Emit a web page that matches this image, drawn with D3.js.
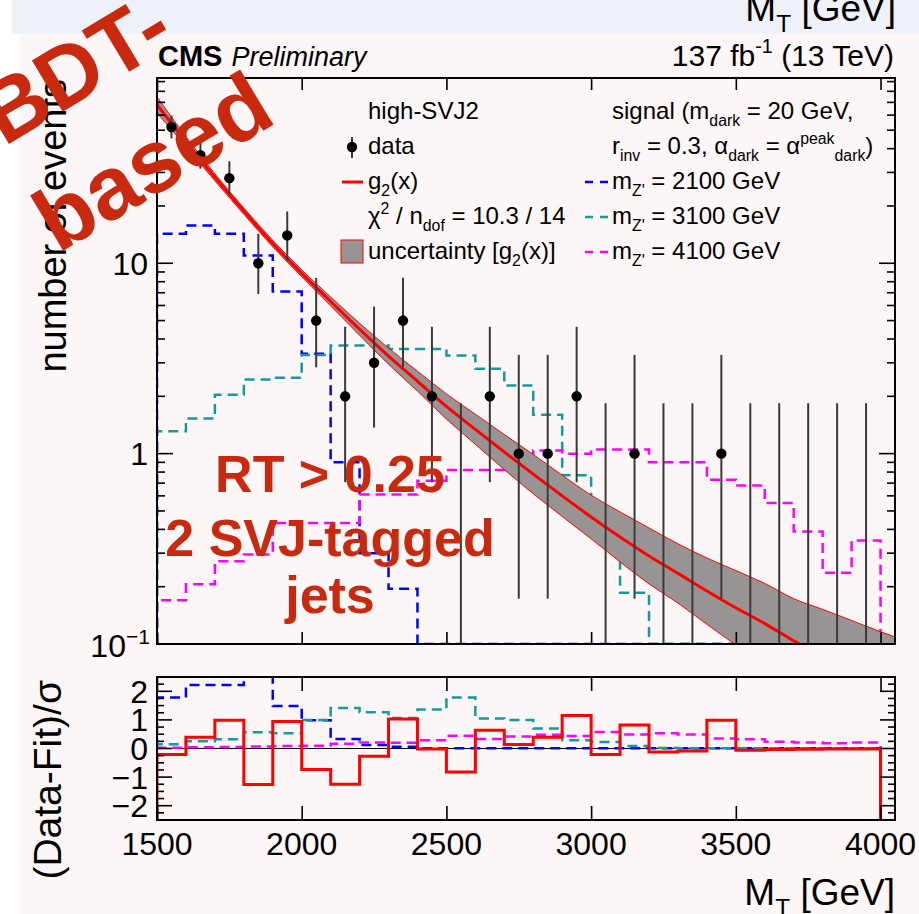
<!DOCTYPE html>
<html>
<head>
<meta charset="utf-8">
<script src="https://cdn.jsdelivr.net/npm/d3@7"></script>
<style>
  body { margin: 0; background: #fff; }
  svg { display: block; font-family: "Liberation Sans", Arial, Helvetica, sans-serif; }
</style>
</head>
<body>
<div id="chart"></div>
<script>
// Bin edges (GeV)
const binEdges = [1500, 1600, 1700, 1800, 1900, 2000, 2100, 2200, 2300, 2400, 2500, 2600, 2700,
  2800, 2900, 3000, 3100, 3200, 3300, 3400, 3500, 3600, 3700, 3800, 3900, 4000];

// Observed data and Poisson intervals
const dataCounts = [52, 37, 28, 10, 14, 5, 2, 3, 5, 2, 0, 2, 1, 1, 2, 0, 1, 0, 0, 1, 0, 0, 0, 0, 0];
const dataLow = [45.3, 31.4, 22.9, 6.89, 10.3, 2.84, 0.708, 1.37, 2.84, 0.708, 0, 0.708, 0.173,
  0.173, 0.708, 0, 0.173, 0, 0, 0.173, 0, 0, 0, 0, 0];
const dataHigh = [59.7, 43.6, 34.3, 14.27, 18.7, 8.38, 4.64, 5.92, 8.38, 4.64, 1.84, 4.64, 3.3,
  3.3, 4.64, 1.84, 3.3, 1.84, 1.84, 3.3, 1.84, 1.84, 1.84, 1.84, 1.84];

// Signal templates (events per bin)
const sigZ2100 = [14.3, 15.8, 14.3, 11.0, 7.1, 3.35, 0.9, 0.3, 0.195, 0, 0, 0, 0, 0, 0, 0, 0,
  0, 0, 0, 0, 0, 0, 0, 0];
const sigZ3100 = [1.31, 1.53, 2.04, 2.45, 2.5, 3.3, 3.7, 3.7, 3.55, 3.55, 3.28, 2.79, 2.28, 1.6,
  0.77, 0.42, 0.186, 0, 0, 0, 0, 0, 0, 0, 0];
const sigZ4100 = [0.17, 0.206, 0.272, 0.295, 0.432, 0.432, 0.432, 0.61, 0.61, 0.72, 0.82, 0.82,
  0.96, 1.04, 1.0, 1.05, 1.05, 0.9, 0.9, 0.73, 0.68, 0.55, 0.39, 0.237, 0.35];

// Fit g2(x) and its uncertainty band
const fitX = [1500, 1600, 1700, 1800, 1900, 2000, 2100, 2200, 2300, 2400, 2500, 2600, 2700, 2800,
  2900, 3000, 3100, 3200, 3300, 3400, 3500, 3600, 3700, 3800, 3900, 4000, 4050];
const fitCentral = [68, 43.5, 28.3, 18.8, 12.7, 8.85, 6.3, 4.5, 3.25, 2.4, 1.77, 1.34, 1.02, 0.78,
  0.6, 0.465, 0.365, 0.29, 0.235, 0.19, 0.155, 0.128, 0.104, 0.086, 0.071, 0.059, 0.054];
const fitUp = [74.9, 46.2, 29.5, 19.5, 13.2, 9.23, 6.65, 4.84, 3.58, 2.71, 2.06, 1.61, 1.26, 0.99,
  0.77, 0.605, 0.494, 0.407, 0.336, 0.283, 0.243, 0.208, 0.173, 0.152, 0.133, 0.116, 0.109];
const fitDown = [61.7, 41.0, 27.1, 18.1, 12.2, 8.49, 5.97, 4.19, 2.95, 2.13, 1.52, 1.12, 0.825,
  0.616, 0.468, 0.357, 0.27, 0.207, 0.164, 0.127, 0.099, 0.079, 0.0625, 0.0487, 0.0378, 0.0299, 0.0267];

// Pulls (Data-Fit)/sigma and signal/sigma
const pullData = [-0.21, 0.39, 0.99, -1.26, 0.94, -0.73, -1.25, -0.27, 1.03, -0.02, -0.82, 0.64,
  0.14, 0.39, 1.15, -0.21, 0.82, -0.12, -0.09, 0.99, -0.06, -0.035, -0.03, -0.02, -0.02];
const pullZ2100 = [1.78, 2.22, 2.22, 3.2, 1.49, 0.99, 0.33, 0.12, 0.06, 0.01, 0.01, 0.01, 0.01,
  0.01, 0.01, 0.01, 0.01, 0.01, 0.01, 0.01, 0.01, 0.01, 0.01, 0.01, 0.01];
const pullZ3100 = [0.15, 0.25, 0.32, 0.57, 0.53, 1.0, 1.42, 1.27, 1.07, 1.36, 1.78, 1.05, 1.0, 0.7,
  0.29, 0.23, 0.09, 0.02, 0.01, 0.01, 0.01, 0.01, 0.01, 0.01, 0.01];
const pullZ4100 = [0.03, 0.04, 0.05, 0.07, 0.09, 0.1, 0.17, 0.21, 0.2, 0.29, 0.45, 0.33, 0.42, 0.48,
  0.44, 0.58, 0.49, 0.53, 0.49, 0.35, 0.32, 0.24, 0.21, 0.18, 0.21];

// Axis labels
const xTickLabels = [1500, 2000, 2500, 3000, 3500, 4000];
const ratioTickLabels = [-2, -1, 0, 1, 2];

const signals = [
  { main: sigZ2100, pull: pullZ2100, color: "#0000ff", mass: "2100" },
  { main: sigZ3100, pull: pullZ3100, color: "#16999a", mass: "3100" },
  { main: sigZ4100, pull: pullZ4100, color: "#ff00ff", mass: "4100" },
];

const width = 919;
const height = 914;
const frame = { left: 157, right: 895, top: 78, bottom: 644 };
const rFrame = { top: 677, bottom: 820 };
const red = "#ff0000";
const bandGray = "#999494";
const stampRed = "#c9290f";

const x = d3.scaleLinear().domain([1500, 4050]).range([frame.left, frame.right]);
const y = d3.scaleLog().domain([0.1, 94]).range([frame.bottom, frame.top]);
const yr = d3.scaleLinear().domain([-2.5, 2.5]).range([rFrame.bottom, rFrame.top]);

const svg = d3.create("svg").attr("width", width).attr("height", height);

// Slide backgrounds
svg.append("rect").attr("x", 12).attr("y", 0).attr("width", width - 12).attr("height", 34)
  .attr("fill", "#eef2f8");
svg.append("rect").attr("x", 20).attr("y", 34).attr("width", width - 20).attr("height", height - 34)
  .attr("fill", "#fcf6f6");

// Rich text helper: parts = [text, "sub"|"sup"|null, stacked?]
const richText = (parent, px, py, parts, size, anchor = "start") => {
  const t = parent.append("text").attr("x", px).attr("y", py)
    .attr("font-size", size).attr("text-anchor", anchor).attr("fill", "#000");
  let shift = 0;
  let lastLen = 0;
  parts.forEach(([str, kind, stack]) => {
    const target = kind === "sub" ? 0.3 * size : kind === "sup" ? -0.42 * size : 0;
    const ts = t.append("tspan").attr("dy", target - shift).text(str);
    if (kind) ts.attr("font-size", size * 0.66);
    if (stack) ts.attr("dx", -lastLen);
    shift = target;
    lastLen = ts.node().getComputedTextLength();
  });
  return t;
};

// Cut-off axis title of the slide above
richText(svg, 896, 21, [["M"], ["T", "sub"], [" [GeV]"]], 37, "end");

// Clip regions
const defs = svg.append("defs");
defs.append("clipPath").attr("id", "clipMain").append("rect")
  .attr("x", frame.left).attr("y", frame.top)
  .attr("width", frame.right - frame.left).attr("height", frame.bottom - frame.top);
defs.append("clipPath").attr("id", "clipRatio").append("rect")
  .attr("x", frame.left).attr("y", rFrame.top)
  .attr("width", frame.right - frame.left).attr("height", rFrame.bottom - rFrame.top);

const stepPoints = (values, base) => {
  const pts = [[binEdges[0], base]];
  values.forEach((v, i) => {
    pts.push([binEdges[i], v]);
    pts.push([binEdges[i + 1], v]);
  });
  pts.push([binEdges[binEdges.length - 1], base]);
  return pts;
};

// ---- main pad ----
const gMain = svg.append("g").attr("clip-path", "url(#clipMain)");
const yClamp = (v) => y(Math.max(v, 0.1));
const histLine = d3.line().x((d) => x(d[0])).y((d) => yClamp(d[1]));

signals.forEach((s) => {
  gMain.append("path")
    .attr("d", histLine(stepPoints(s.main, 0.1)))
    .attr("fill", "none")
    .attr("stroke", s.color)
    .attr("stroke-width", 2.5)
    .attr("stroke-dasharray", "10,6");
});

const band = d3.area()
  .x((d, i) => x(fitX[i]))
  .y0((d, i) => y(fitDown[i]))
  .y1((d, i) => y(fitUp[i]))
  .curve(d3.curveMonotoneX);
gMain.append("path").attr("d", band(fitX)).attr("fill", bandGray);

const curve = (vals) => d3.line()
  .x((d, i) => x(fitX[i]))
  .y((d, i) => y(vals[i]))
  .curve(d3.curveMonotoneX)(fitX);
[fitUp, fitDown].forEach((vals) => {
  gMain.append("path").attr("d", curve(vals)).attr("fill", "none")
    .attr("stroke", red).attr("stroke-width", 1);
});
gMain.append("path").attr("d", curve(fitCentral)).attr("fill", "none")
  .attr("stroke", red).attr("stroke-width", 3);

const points = dataCounts.map((n, i) => ({
  n,
  mt: (binEdges[i] + binEdges[i + 1]) / 2,
  lo: dataLow[i],
  hi: dataHigh[i],
}));
gMain.append("g").selectAll("line").data(points).join("line")
  .attr("x1", (d) => x(d.mt))
  .attr("x2", (d) => x(d.mt))
  .attr("y1", (d) => yClamp(d.lo))
  .attr("y2", (d) => y(d.hi))
  .attr("stroke", "#3a3a3a")
  .attr("stroke-width", 2);
gMain.append("g").selectAll("circle").data(points.filter((d) => d.n > 0)).join("circle")
  .attr("cx", (d) => x(d.mt))
  .attr("cy", (d) => y(d.n))
  .attr("r", 5.2)
  .attr("fill", "#000");

// ---- ratio pad ----
const gRatio = svg.append("g").attr("clip-path", "url(#clipRatio)");
const ratioLine = d3.line().x((d) => x(d[0])).y((d) => yr(d[1]));
gRatio.append("line")
  .attr("x1", frame.left).attr("x2", frame.right)
  .attr("y1", yr(0)).attr("y2", yr(0))
  .attr("stroke", "#000").attr("stroke-width", 1);
signals.forEach((s) => {
  gRatio.append("path")
    .attr("d", ratioLine(stepPoints(s.pull, 0)))
    .attr("fill", "none")
    .attr("stroke", s.color)
    .attr("stroke-width", 2.5)
    .attr("stroke-dasharray", "10,6");
});
gRatio.append("path")
  .attr("d", ratioLine(stepPoints(pullData, -2.6)))
  .attr("fill", "none")
  .attr("stroke", red)
  .attr("stroke-width", 3);

// ---- frames and ticks ----
const xMinor = d3.range(1500, 4051, 100);
const addXTicks = (top, bottom, majorLen, minorLen) => {
  [[top, 1], [bottom, -1]].forEach(([y0, dir]) => {
    const g = svg.append("g").attr("transform", `translate(0,${y0})`);
    g.call(d3.axisBottom(x).tickValues(xMinor).tickFormat("")
      .tickSizeInner(dir * minorLen).tickSizeOuter(0));
    g.call(d3.axisBottom(x).tickValues(xTickLabels).tickFormat("")
      .tickSizeInner(dir * majorLen).tickSizeOuter(0));
    g.selectAll(".domain").remove();
    g.selectAll("line").attr("stroke", "#000").attr("stroke-width", 1.6);
  });
};
addXTicks(frame.top, frame.bottom, 12, 7);
addXTicks(rFrame.top, rFrame.bottom, 14, 7);

const addYTicks = (scale, values, isMajor, majorLen, minorLen) => {
  const g = svg.append("g");
  g.selectAll("line.l").data(values).join("line")
    .attr("x1", frame.left)
    .attr("x2", (d) => frame.left + (isMajor(d) ? majorLen : minorLen))
    .attr("y1", (d) => scale(d)).attr("y2", (d) => scale(d));
  g.selectAll("line.r").data(values).join("line")
    .attr("x1", frame.right)
    .attr("x2", (d) => frame.right - (isMajor(d) ? majorLen : minorLen))
    .attr("y1", (d) => scale(d)).attr("y2", (d) => scale(d));
  g.selectAll("line").attr("stroke", "#000").attr("stroke-width", 1.6);
};
const logTicks = y.ticks();
addYTicks(y, logTicks, (d) => Math.abs(Math.log10(d) - Math.round(Math.log10(d))) < 1e-6, 16, 8);
addYTicks(yr, d3.range(-2.5, 2.51, 0.25), (d) => Math.abs(d - Math.round(d)) < 1e-6, 15, 7);

[[frame.top, frame.bottom], [rFrame.top, rFrame.bottom]].forEach(([t, b]) => {
  svg.append("rect")
    .attr("x", frame.left).attr("y", t)
    .attr("width", frame.right - frame.left).attr("height", b - t)
    .attr("fill", "none").attr("stroke", "#000").attr("stroke-width", 2);
});

// ---- tick labels ----
svg.append("g").selectAll("text").data(xTickLabels).join("text")
  .attr("x", (d) => x(d)).attr("y", 855)
  .attr("text-anchor", "middle").attr("font-size", 32)
  .text((d) => d);
svg.append("g").selectAll("text").data(ratioTickLabels).join("text")
  .attr("x", 148).attr("y", (d) => yr(d) + 11.5)
  .attr("text-anchor", "end").attr("font-size", 32)
  .text((d) => (d < 0 ? `\u2212${-d}` : d));
svg.append("text").attr("x", 148).attr("y", y(10) + 11.5)
  .attr("text-anchor", "end").attr("font-size", 32).text("10");
svg.append("text").attr("x", 148).attr("y", y(1) + 11.5)
  .attr("text-anchor", "end").attr("font-size", 32).text("1");
richText(svg, 150, y(0.1) + 13, [["10"], ["\u22121", "sup"]], 32, "end");

// ---- axis titles ----
richText(svg, 895, 905, [["M"], ["T", "sub"], [" [GeV]"]], 37, "end");
svg.append("text")
  .attr("transform", `translate(66,${frame.top + 1}) rotate(-90)`)
  .attr("text-anchor", "end").attr("font-size", 38)
  .text("number of events");
svg.append("text")
  .attr("transform", `translate(61,${rFrame.top + 3}) rotate(-90)`)
  .attr("text-anchor", "end").attr("font-size", 39)
  .text("(Data-Fit)/\u03c3");

// ---- CMS header ----
const header = svg.append("text").attr("x", 158).attr("y", 66);
header.append("tspan").attr("font-weight", "bold").attr("font-size", 29).text("CMS");
header.append("tspan").attr("font-style", "italic").attr("font-size", 27).attr("dx", 9)
  .text("Preliminary");
richText(svg, 894, 66, [["137 fb"], ["-1", "sup"], [" (13 TeV)", null]], 30, "end");

// ---- legend ----
const leg = svg.append("g");
const rowY = [119, 154, 189, 224, 259];
richText(leg, 368, rowY[0], [["high-SVJ2"]], 24);
leg.append("line").attr("x1", 352).attr("x2", 352).attr("y1", 137).attr("y2", 158)
  .attr("stroke", "#3a3a3a").attr("stroke-width", 2);
leg.append("circle").attr("cx", 352).attr("cy", 147).attr("r", 5.2).attr("fill", "#000");
richText(leg, 368, rowY[1], [["data"]], 24);
leg.append("line").attr("x1", 342).attr("x2", 363).attr("y1", 182).attr("y2", 182)
  .attr("stroke", red).attr("stroke-width", 3);
richText(leg, 368, rowY[2], [["g"], ["2", "sub"], ["(x)"]], 24);
richText(leg, 368, rowY[3], [["\u03c7"], ["2", "sup"], [" / n"], ["dof", "sub"], [" = 10.3 / 14"]], 24);
leg.append("rect").attr("x", 341).attr("y", 240).attr("width", 22).attr("height", 23)
  .attr("fill", bandGray).attr("stroke", red).attr("stroke-width", 1);
richText(leg, 368, rowY[4], [["uncertainty [g"], ["2", "sub"], ["(x)]"]], 24);

richText(leg, 612, rowY[0], [["signal (m"], ["dark", "sub"], [" = 20 GeV,"]], 24);
richText(leg, 612, rowY[1], [["r"], ["inv", "sub"], [" = 0.3, \u03b1"], ["dark", "sub"], [" = \u03b1"],
  ["peak", "sup"], ["dark", "sub", true], [")"]], 24);
signals.forEach((s, i) => {
  leg.append("line").attr("x1", 585).attr("x2", 608)
    .attr("y1", rowY[i + 2] - 7).attr("y2", rowY[i + 2] - 7)
    .attr("stroke", s.color).attr("stroke-width", 2.5).attr("stroke-dasharray", "8,7");
  richText(leg, 612, rowY[i + 2], [["m"], ["Z'", "sub"], [` = ${s.mass} GeV`]], 24);
});

// ---- slide annotations ----
const stamp = svg.append("g").attr("fill", stampRed).attr("font-weight", "bold");
[["RT > 0.25", 492], ["2 SVJ-tagged", 556], ["jets", 613]].forEach(([t, yy]) => {
  stamp.append("text").attr("x", 330).attr("y", yy).attr("text-anchor", "middle")
    .attr("font-size", 52).text(t);
});
stamp.append("text").attr("transform", "translate(4,147) rotate(-31)")
  .attr("font-size", 87).text("BDT-");
stamp.append("text").attr("transform", "translate(58,254) rotate(-31)")
  .attr("font-size", 89).text("based");

document.getElementById("chart").append(svg.node());
</script>
</body>
</html>
